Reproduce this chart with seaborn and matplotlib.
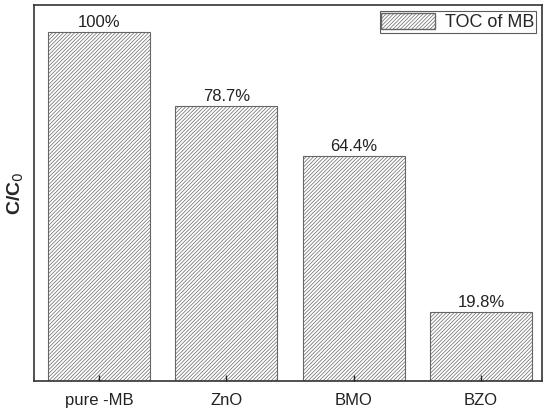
import matplotlib
matplotlib.use('Agg')
import matplotlib.pyplot as plt
import pandas as pd
import seaborn as sns
from matplotlib.patches import Patch

samples = ['pure -MB', 'ZnO', 'BMO', 'BZO']
toc = [100, 78.7, 64.4, 19.8]
labels = ['100%', '78.7%', '64.4%', '19.8%']

df = pd.DataFrame({'sample': samples, 'toc': toc})

sns.set_style('white')
plt.rcParams['font.family'] = ['Liberation Sans', 'DejaVu Sans']
plt.rcParams['hatch.linewidth'] = 0.5
plt.rcParams['hatch.color'] = '#555555'

fig = plt.figure(figsize=(5.5, 4.13), dpi=100)
ax = fig.add_axes([0.062, 0.0775, 0.9235, 0.9105])

sns.barplot(data=df, x='sample', y='toc', color='white', width=0.8,
            edgecolor='#666666', linewidth=0.8, hatch='/////////', ax=ax)

for i, (v, t) in enumerate(zip(toc, labels)):
    ax.text(i, v + 0.6, t, ha='center', va='bottom', fontsize=12, color='#222222')

ax.set_axisbelow(False)
ax.set_ylim(0, 107.7)
ax.set_xlim(-0.51, 3.48)
ax.set_yticks([])
ax.set_xlabel('')
ax.set_ylabel('C/C$_0$', fontsize=14, fontweight='bold', labelpad=6)
ax.tick_params(axis='x', direction='in', length=4, width=1, labelsize=12,
               pad=9, bottom=True, colors='#222222')
for s in ax.spines.values():
    s.set_color('#333333')
    s.set_linewidth(1.2)

leg = ax.legend(handles=[Patch(facecolor='white', edgecolor='#666666', hatch='/////////', label='TOC of MB')],
                loc='upper right', fontsize=13, frameon=True, fancybox=False,
                borderpad=0.1, handlelength=3.0, handleheight=1.0,
                borderaxespad=0.35, handletextpad=0.5)
leg.get_frame().set_edgecolor('#333333')
leg.get_frame().set_linewidth(0.8)

fig.savefig('out.png', dpi=100)
